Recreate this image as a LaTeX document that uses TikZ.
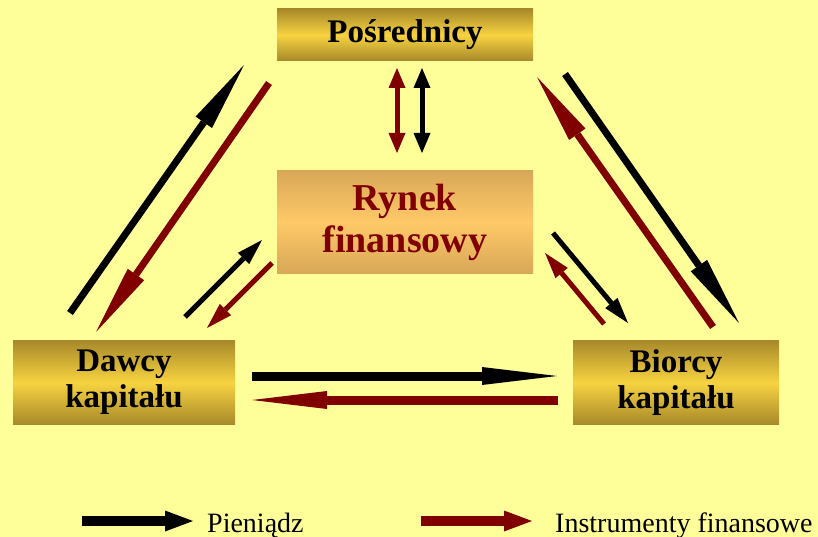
\documentclass[tikz,border=0pt]{standalone}
\usepackage{fontspec}
\setmainfont{Liberation Serif}
\usetikzlibrary{arrows.meta}
\definecolor{paper}{RGB}{255,255,153}
\definecolor{golddark}{RGB}{168,137,42}
\definecolor{goldlight}{RGB}{247,211,64}
\definecolor{peachdark}{RGB}{216,168,88}
\definecolor{peachlight}{RGB}{255,201,104}
\definecolor{instred}{RGB}{128,0,0}
\tikzstyle{goldbox}=[%
  top color=golddark,
  bottom color=golddark,
  middle color=goldlight,
  inner sep=0pt,
  align=center,
  font=\bfseries\fontsize{33}{36}\selectfont
]
\tikzstyle{marketbox}=[%
  top color=peachdark,
  bottom color=peachdark,
  middle color=peachlight,
  inner sep=0pt,
  align=center,
  text=instred,
  font=\bfseries\fontsize{38}{42}\selectfont
]
\tikzstyle{longarrow}=[line width=7pt, -{Triangle[length=70pt,width=20pt,line width=0pt]}]
\tikzstyle{shortarrow}=[line width=5pt, -{Triangle[length=26pt,width=16pt,line width=0pt]}]
\tikzstyle{flatarrow}=[line width=9pt, -{Triangle[length=75pt,width=18pt,line width=0pt]}]
\tikzstyle{keyarrow}=[line width=10pt, -{Triangle[length=28pt,width=21pt,line width=0pt]}]
\tikzstyle{bothway}=[line width=5pt, {Triangle[length=20pt,width=17pt,line width=0pt]}-{Triangle[length=20pt,width=17pt,line width=0pt]}]

\begin{document}
\begin{tikzpicture}[x=1pt, y=-1pt]
      \fill[paper] (0,0) rectangle (818,537);
      \useasboundingbox (0,0) rectangle (818,537);
      \node[goldbox, minimum width=256pt, minimum height=52pt] (posr) at (405,35) {Pośrednicy};
      \node[marketbox, minimum width=256pt, minimum height=102pt] (rynek) at (405,222) {Rynek\\finansowy};
      \node[goldbox, minimum width=222pt, minimum height=84pt] (dawcy) at (124,382.5) {Dawcy\\kapitału};
      \node[goldbox, minimum width=206pt, minimum height=84pt] (biorcy) at (676,382.5) {Biorcy\\kapitału};
      % arrow ends
      \foreach \name/\x/\y in {dp1/70/313, dp2/244/65, pd1/269/83, pd2/96/332,
        dr1/185/317, dr2/262/240, rd1/272/263, rd2/207/328,
        pb1/565/74, pb2/739/323, bp1/713/327, bp2/537/77,
        rb1/553/233, rb2/628/323, br1/604/324, br2/545/253,
        vr1/397/68, vr2/397/153, vb1/422/68, vb2/422/153,
        db1/252/376, db2/557/376, bd1/558/400, bd2/252/400,
        km1/82/521, km2/193/521, ki1/421/521, ki2/532/521} {%
        \coordinate (\name) at (\x,\y);
      }
      \draw[longarrow] (dp1) -- (dp2);
      \draw[longarrow, instred] (pd1) -- (pd2);
      \draw[longarrow] (pb1) -- (pb2);
      \draw[longarrow, instred] (bp1) -- (bp2);
      \draw[shortarrow] (dr1) -- (dr2);
      \draw[shortarrow, instred] (rd1) -- (rd2);
      \draw[shortarrow] (rb1) -- (rb2);
      \draw[shortarrow, instred] (br1) -- (br2);
      \draw[bothway, instred] (vr1) -- (vr2);
      \draw[bothway] (vb1) -- (vb2);
      \draw[flatarrow] (db1) -- (db2);
      \draw[flatarrow, instred] (bd1) -- (bd2);
      % legend
      \draw[keyarrow] (km1) -- (km2);
      \draw[keyarrow, instred] (ki1) -- (ki2);
      \node[anchor=base west, inner sep=0pt, font=\fontsize{28}{30}\selectfont] (money) at (207,532) {Pieniądz};
      \node[anchor=base west, inner sep=0pt, font=\fontsize{28}{30}\selectfont] (instr) at (555,532) {Instrumenty finansowe};
    \end{tikzpicture}
\end{document}
